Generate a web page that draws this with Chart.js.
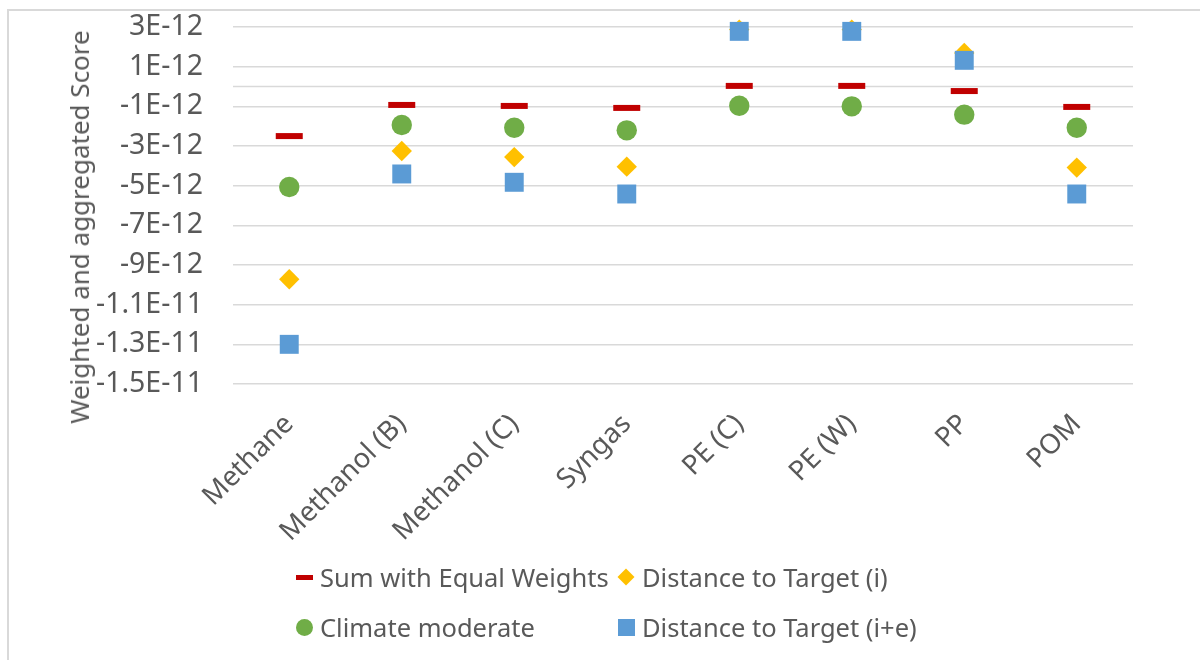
<!DOCTYPE html>
<html>
<head>
<meta charset="utf-8">
<script src="https://cdn.jsdelivr.net/npm/chart.js@4.4.1/dist/chart.umd.min.js"></script>
<style>
  body { margin: 0; background: #fff; }
  #wrap { position: relative; width: 1200px; height: 660px; font-family: "Noto Sans", sans-serif; color: #595959; }
  #frame { position: absolute; left: 7px; top: 9px; width: 1200px; height: 660px; border-left: 2px solid #d9d9d9; border-top: 2px solid #d9d9d9; }
  #ytitle { position: absolute; left: 79px; top: 227px; transform: translate(-50%, -50%) rotate(-90deg); white-space: nowrap; font-size: 26px; }
  .leg { position: absolute; font-size: 25.5px; line-height: 30px; white-space: nowrap; }
  .mk { position: absolute; }
  canvas { position: absolute; left: 0; top: 0; }
</style>
</head>
<body>
<div id="wrap">
  <div id="frame"></div>
  <canvas id="chart" width="1200" height="660"></canvas>
  <div id="ytitle">Weighted and aggregated Score</div>

  <!-- legend, 2 x 2 like the excel one -->
  <div class="mk" style="left:296px; top:575px; width:17px; height:5px; background:#c00000;"></div>
  <div class="leg" style="left:320px; top:562px;">Sum with Equal Weights</div>
  <div class="mk" style="left:620px; top:571px; width:12px; height:12px; background:#ffc000; transform:rotate(45deg);"></div>
  <div class="leg" style="left:642px; top:562px;">Distance to Target (i)</div>
  <div class="mk" style="left:296px; top:619px; width:17px; height:17px; border-radius:50%; background:#70ad47;"></div>
  <div class="leg" style="left:320px; top:612px;">Climate moderate</div>
  <div class="mk" style="left:618px; top:619px; width:17px; height:17px; background:#5b9bd5;"></div>
  <div class="leg" style="left:642px; top:612px;">Distance to Target (i+e)</div>
</div>

<script>
// categories and values
const categories = ["Methane", "Methanol (B)", "Methanol (C)", "Syngas", "PE (C)", "PE (W)", "PP", "POM"];
const sumEqualWeights = [-2.50e-12, -0.93e-12, -0.98e-12, -1.08e-12, 0.03e-12, 0.03e-12, -0.23e-12, -1.03e-12];
const distanceTargetI = [-9.72e-12, -3.25e-12, -3.56e-12, -4.04e-12, 2.87e-12, 2.87e-12, 1.69e-12, -4.09e-12];
const climateModerate = [-5.07e-12, -1.94e-12, -2.08e-12, -2.21e-12, -0.97e-12, -1.00e-12, -1.42e-12, -2.08e-12];
const distanceTargetIE = [-13.0e-12, -4.41e-12, -4.83e-12, -5.42e-12, 2.78e-12, 2.78e-12, 1.32e-12, -5.42e-12];

// y axis range / ticks
const yMin = -15e-12;
const yMax = 3e-12;
const yStep = 2e-12;

const gridColor = "#d9d9d9";
const textColor = "#595959";

// excel draws the horizontal axis line at zero
const zeroLine = {
    id: "zeroLine",
    beforeDatasetsDraw(chart) {
        const y = chart.scales.y.getPixelForValue(0);
        const ctx = chart.ctx;
        ctx.save();
        ctx.strokeStyle = gridColor;
        ctx.lineWidth = 1.5;
        ctx.beginPath();
        ctx.moveTo(chart.chartArea.left, y);
        ctx.lineTo(chart.chartArea.right, y);
        ctx.stroke();
        ctx.restore();
    }
};

function fmtExp(v) {
    return Number(Number(v).toPrecision(6)).toExponential().toUpperCase().replace("+", "");
}

new Chart("chart", {
    type: "line",
    data: {
        labels: categories,
        datasets: [{
            label: "Sum with Equal Weights",
            data: sumEqualWeights,
            showLine: false,
            clip: false,
            pointStyle: "line",
            pointRadius: 13.5,
            pointBorderWidth: 6,
            pointBorderColor: "#c00000",
            order: 1
        }, {
            label: "Distance to Target (i)",
            data: distanceTargetI,
            showLine: false,
            clip: false,
            pointStyle: "rectRot",
            pointRadius: 10.2,
            pointBorderWidth: 0,
            pointBackgroundColor: "#ffc000",
            order: 3
        }, {
            label: "Climate moderate",
            data: climateModerate,
            showLine: false,
            clip: false,
            pointStyle: "circle",
            pointRadius: 10.2,
            pointBorderWidth: 0,
            pointBackgroundColor: "#70ad47",
            order: 2
        }, {
            label: "Distance to Target (i+e)",
            data: distanceTargetIE,
            showLine: false,
            clip: false,
            pointStyle: "rect",
            pointRadius: 13.4,
            pointBorderWidth: 0,
            pointBackgroundColor: "#5b9bd5",
            order: 0
        }]
    },
    options: {
        responsive: false,
        animation: false,
        events: [],
        layout: { padding: { left: 0, top: 27, right: 67, bottom: 0 } },
        plugins: {
            legend: { display: false },
            tooltip: { enabled: false }
        },
        scales: {
            x: {
                offset: true,
                grid: { display: false },
                border: { display: false },
                ticks: {
                    color: textColor,
                    font: { family: "Noto Sans", size: 27.5 },
                    minRotation: 45,
                    maxRotation: 45,
                    autoSkip: false,
                    padding: 16
                },
                afterFit(scale) { scale.height = 276; }
            },
            y: {
                min: yMin,
                max: yMax,
                // invisible tick marks give the gap between labels and plot
                grid: { color: gridColor, lineWidth: 1.5, tickLength: 30, tickColor: "rgba(0,0,0,0)" },
                border: { display: false },
                ticks: {
                    stepSize: yStep,
                    color: textColor,
                    font: { family: "Noto Sans", size: 28.5 },
                    padding: 0,
                    callback: (v) => fmtExp(v)
                },
                afterFit(scale) { scale.width = 233; }
            }
        }
    },
    plugins: [zeroLine]
});
</script>
</body>
</html>
